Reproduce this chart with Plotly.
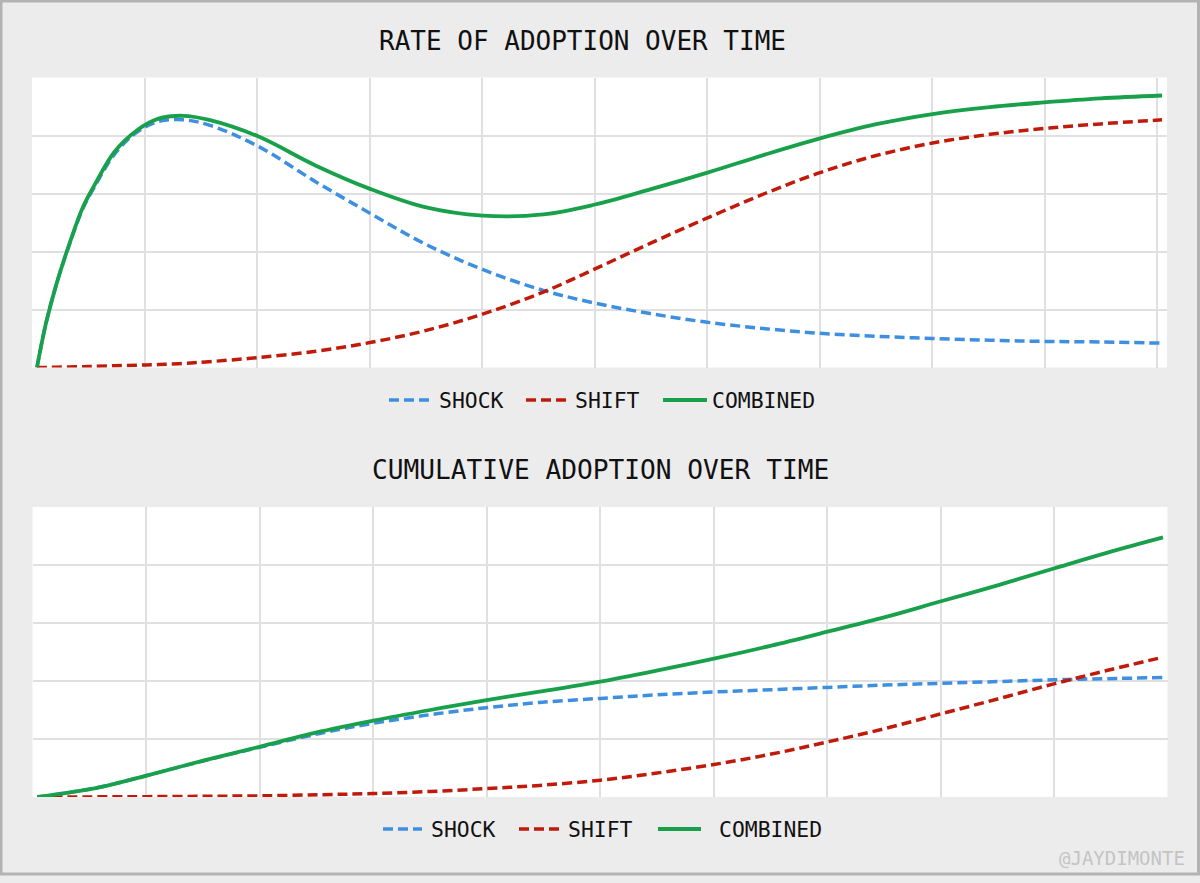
import plotly.graph_objects as go
import numpy as np

# ---------------- data ----------------
rate_t = [0, 0.08, 0.175, 0.29, 0.41, 0.51, 0.69, 0.89, 1.08, 1.3, 1.53, 1.96, 2.48,
          2.96, 3.44, 3.96, 4.5, 4.96, 5.45, 5.96, 6.47, 6.96, 7.45, 7.96, 8.47, 8.95,
          9.45, 10]
rate_shock = [0, 0.76, 1.45, 2.13, 2.75, 3.11, 3.68, 4.06, 4.24, 4.27, 4.18, 3.82, 3.20,
              2.66, 2.14, 1.69, 1.33, 1.11, 0.93, 0.78, 0.67, 0.59, 0.54, 0.50, 0.47, 0.45,
              0.44, 0.42]
rate_shift = [0, 0.0, 0.005, 0.01, 0.015, 0.02, 0.03, 0.04, 0.05, 0.07, 0.10, 0.17, 0.28,
              0.43, 0.63, 0.92, 1.30, 1.70, 2.14, 2.58, 3.00, 3.36, 3.65, 3.87, 4.02, 4.12,
              4.20, 4.27]
rate_combined = [0, 0.76, 1.45, 2.14, 2.77, 3.14, 3.72, 4.09, 4.29, 4.34, 4.27, 3.99, 3.48,
                 3.08, 2.77, 2.62, 2.64, 2.81, 3.07, 3.36, 3.67, 3.95, 4.19, 4.37, 4.49, 4.57,
                 4.64, 4.69]

cum_t = [0, 0.26, 0.58, 0.97, 1.49, 1.98, 2.52, 2.98, 3.49, 3.99, 4.46, 5.0, 5.49, 6.01,
         6.52, 7.02, 7.53, 8.02, 8.53, 9.03, 9.50, 10.0]
cum_shock = [0, 0.07, 0.18, 0.37, 0.63, 0.86, 1.10, 1.27, 1.42, 1.54, 1.63, 1.70, 1.76, 1.81,
             1.85, 1.89, 1.93, 1.96, 1.99, 2.02, 2.04, 2.06]
cum_shift = [0, 0.0, 0.003, 0.006, 0.012, 0.02, 0.04, 0.06, 0.095, 0.145, 0.20, 0.29,
             0.41, 0.56, 0.74, 0.95, 1.18, 1.43, 1.69, 1.95, 2.18, 2.41]
cum_combined = [0, 0.07, 0.18, 0.37, 0.635, 0.87, 1.13, 1.315, 1.50, 1.67, 1.815, 1.99,
                2.175, 2.385, 2.61, 2.85, 3.10, 3.37, 3.65, 3.94, 4.21, 4.475]

series_names = ["SHOCK", "SHIFT", "COMBINED"]
titles = ["RATE OF ADOPTION OVER TIME", "CUMULATIVE ADOPTION OVER TIME"]
watermark = "@JAYDIMONTE"

# ---------------- style ----------------
W, H = 1200, 883
BG = "#ececec"
GRID = "#e0e0e0"
BLUE = "#3f8fe0"
RED = "#bf1a0a"
GREEN = "#18a04a"
FONT = "DejaVu Sans Mono"


def px_x(p):
    return p / W


def px_y(p):
    return 1 - p / H


fig = go.Figure()

styles = [
    dict(color=BLUE, width=3.5, dash="10px,5px"),
    dict(color=RED, width=3.5, dash="10px,5px"),
    dict(color=GREEN, width=3.8),
]

for i, ys in enumerate([rate_shock, rate_shift, rate_combined]):
    fig.add_trace(go.Scatter(
        x=rate_t, y=ys, mode="lines", name=series_names[i],
        line=dict(shape="spline", **styles[i]),
        xaxis="x", yaxis="y", showlegend=False, hoverinfo="skip"))

for i, ys in enumerate([cum_shock, cum_shift, cum_combined]):
    fig.add_trace(go.Scatter(
        x=cum_t, y=ys, mode="lines", name=series_names[i],
        line=dict(shape="spline", **styles[i]),
        xaxis="x2", yaxis="y2", showlegend=False, hoverinfo="skip"))

top_range = [-0.044, 10.044]
bot_range = [-0.044, 10.04]
top_ticks = [top_range[0] + k for k in range(11)]
bot_ticks = list(np.linspace(bot_range[0], bot_range[1], 11))

axis_common = dict(showgrid=True, gridcolor=GRID, gridwidth=1.5, showticklabels=False,
                   ticks="", zeroline=False, showline=False, fixedrange=True)

fig.update_layout(
    width=W, height=H,
    margin=dict(l=0, r=0, t=0, b=0),
    paper_bgcolor=BG, plot_bgcolor="white",
    font=dict(family=FONT, color="#111111"),
    showlegend=False,
    xaxis=dict(domain=[px_x(32), px_x(1167)], range=top_range, tickmode="array",
               tickvals=top_ticks, anchor="y", **axis_common),
    yaxis=dict(domain=[px_y(367.5), px_y(77.5)], range=[0, 5], tickmode="array",
               tickvals=[0, 1, 2, 3, 4, 5], anchor="x", **axis_common),
    xaxis2=dict(domain=[px_x(32.5), px_x(1167.5)], range=bot_range, tickmode="array",
                tickvals=bot_ticks, anchor="y2", **axis_common),
    yaxis2=dict(domain=[px_y(797), px_y(507)], range=[0, 5], tickmode="array",
                tickvals=[0, 1, 2, 3, 4, 5], anchor="x2", **axis_common),
)

# titles
fig.add_annotation(text=titles[0], xref="paper", yref="paper", x=px_x(582), y=px_y(41),
                   xanchor="center", yanchor="middle", showarrow=False,
                   font=dict(family=FONT, size=26, color="#111111"))
fig.add_annotation(text=titles[1], xref="paper", yref="paper", x=px_x(600), y=px_y(470),
                   xanchor="center", yanchor="middle", showarrow=False,
                   font=dict(family=FONT, size=26.2, color="#111111"))

# legends (sample line + label) below each chart
legend_layouts = [
    dict(y=400, items=[(389, 429, 437), (526, 567, 573), (663, 707, 710)]),
    dict(y=829, items=[(383, 422, 429), (519, 559, 566), (658, 701, 717)]),
]
for lg in legend_layouts:
    for i, (x0, x1, xt) in enumerate(lg["items"]):
        st = styles[i]
        fig.add_shape(type="line", xref="paper", yref="paper",
                      x0=px_x(x0), x1=px_x(x1), y0=px_y(lg["y"]), y1=px_y(lg["y"]),
                      line=dict(color=st["color"], width=st["width"],
                                dash=st.get("dash", "solid")))
        fig.add_annotation(text=series_names[i], xref="paper", yref="paper",
                           x=px_x(xt), y=px_y(lg["y"]), xanchor="left", yanchor="middle",
                           showarrow=False,
                           font=dict(family=FONT, size=21.4, color="#111111"))

fig.add_annotation(text=watermark, xref="paper", yref="paper", x=px_x(1187), y=px_y(858),
                   xanchor="right", yanchor="middle", showarrow=False,
                   font=dict(family=FONT, size=19, color="#c4c4c4"))

# frame border
fig.add_shape(type="rect", xref="paper", yref="paper", x0=px_x(1), y0=px_y(874),
              x1=px_x(1198.5), y1=px_y(1), line=dict(color="#b3b3b3", width=3),
              fillcolor="rgba(0,0,0,0)", layer="above")

fig.write_html("out.html")
